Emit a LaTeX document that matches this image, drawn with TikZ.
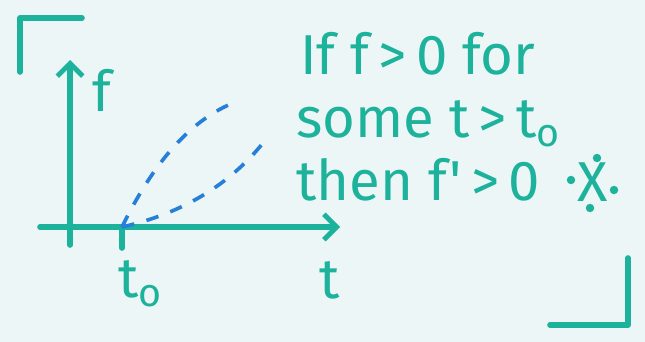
\documentclass[tikz,border=0pt]{standalone}
\usepackage{fontspec}
\setmainfont{Fira Sans}
\usetikzlibrary{arrows.meta}
\definecolor{marker}{RGB}{28,178,155}
\definecolor{dashblue}{RGB}{38,128,218}
\definecolor{paper}{RGB}{236,246,246}

\begin{document}
\begin{tikzpicture}[x=0.025cm, y=-0.025cm,
  pen/.style={draw=marker, line width=4pt, line cap=round, line join=round},
  axis/.style={pen, -{Straight Barb[length=9pt, width=18pt, line width=3.5pt]}},
  guess/.style={draw=dashblue, line width=2.6pt, dash pattern=on 9pt off 9pt},
  hand/.style={text=marker, font=\fontsize{40}{46}\selectfont, inner sep=0pt},
  claim/.style={hand, anchor=west},
  dotty/.style={fill=marker, circle, inner sep=0pt, minimum size=6pt}
]
\fill[paper] (0,0) rectangle (645,342);
\useasboundingbox (0,0) rectangle (645,342);

% corner marks
\draw[pen] (20,72) -- (20,18) -- (82,18);
\draw[pen] (628,258) -- (628,325) -- (550,325);

% axes
\coordinate (yfoot) at (70,245);
\coordinate (ytip) at (70,60);
\coordinate (xfoot) at (40,227);
\coordinate (xtip) at (340,227);
\coordinate (origin) at (122,227);
\coordinate (tick) at (122,248);
\draw[axis] (yfoot) -- (ytip);
\draw[axis] (xfoot) -- (xtip);
\draw[pen] (origin) -- (tick);

\node[hand] (flabel) at (102,90) {f};
\node[hand] (t0label) at (140,284) {t$_\mathrm{o}$};
\node[hand] (tlabel) at (330,280) {t};

% possible curves
\coordinate (upper) at (233,103);
\coordinate (lower) at (263,143);
\draw[guess] (origin) .. controls (145,180) and (180,125) .. (upper);
\draw[guess] (origin) .. controls (175,215) and (225,190) .. (lower);

% the claim
\node[claim] (line1) at (300,54) {If f\,>\,0 for};
\node[claim] (line2) at (296,124) {some t\,>\,t$_\mathrm{o}$};
\node[claim] (line3) at (296,180) {then f\kern2pt\textquotesingle\,>\,0};
\node[hand] (cross) at (593,182) {X};
\node[dotty] at (571,180) {};
\node[dotty] at (614,190) {};
\node[dotty] at (597,158) {};
\node[dotty] at (590,208) {};

\end{tikzpicture}
\end{document}
